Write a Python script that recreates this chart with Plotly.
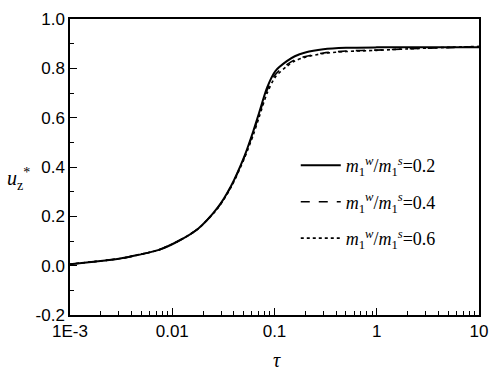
import plotly.graph_objects as go

tau = [0.001, 0.0017, 0.003, 0.0047, 0.0074, 0.0115, 0.0179, 0.0279, 0.0375,
       0.0504, 0.062, 0.0705, 0.0848, 0.102, 0.132, 0.158, 0.2, 0.3, 0.5, 1, 2, 5, 10]
u_02 = [0.006, 0.016, 0.028, 0.044, 0.064, 0.100, 0.150, 0.236, 0.322,
        0.440, 0.545, 0.618, 0.723, 0.789, 0.829, 0.849, 0.864, 0.877, 0.883, 0.885, 0.885, 0.885, 0.885]
u_04 = [0.006, 0.016, 0.028, 0.044, 0.064, 0.100, 0.150, 0.235, 0.320,
        0.437, 0.539, 0.610, 0.712, 0.775, 0.815, 0.835, 0.848, 0.862, 0.870, 0.874, 0.879, 0.884, 0.888]
u_06 = [0.006, 0.016, 0.028, 0.044, 0.064, 0.100, 0.149, 0.233, 0.317,
        0.432, 0.530, 0.600, 0.700, 0.765, 0.808, 0.830, 0.845, 0.860, 0.868, 0.873, 0.879, 0.885, 0.889]

labels = ["<i>m</i><sub>1</sub><sup><i>w</i></sup>/<i>m</i><sub>1</sub><sup><i>s</i></sup>=0.2",
          "<i>m</i><sub>1</sub><sup><i>w</i></sup>/<i>m</i><sub>1</sub><sup><i>s</i></sup>=0.4",
          "<i>m</i><sub>1</sub><sup><i>w</i></sup>/<i>m</i><sub>1</sub><sup><i>s</i></sup>=0.6"]
series = [u_02, u_04, u_06]
dashes = ["solid", "dash", "dot"]
widths = [2, 1.6, 1.6]

x_tickvals = [0.001, 0.01, 0.1, 1, 10]
x_ticktext = ["1E-3", "0.01", "0.1", "1", "10"]
x_minor = [m * 10 ** e for e in range(-3, 1) for m in range(2, 10)]
y_tickvals = [-0.2, 0.0, 0.2, 0.4, 0.6, 0.8, 1.0]
y_ticktext = ["-0.2", "0.0", "0.2", "0.4", "0.6", "0.8", "1.0"]

fig = go.Figure()
for i, (ys, lab) in enumerate(zip(series, labels)):
    fig.add_trace(go.Scatter(x=tau, y=ys, mode="lines", name=lab,
                             legendgroup=str(i),
                             line=dict(color="black", width=widths[i], dash=dashes[i],
                                       shape="spline", smoothing=0.8)))

axis_font = dict(family="Liberation Sans, Arial", size=17, color="black")
fig.update_layout(
    width=498, height=370,
    margin=dict(l=70, r=13, t=10, b=55),
    paper_bgcolor="white", plot_bgcolor="white",
    showlegend=True,
    legend=dict(x=0.552, y=0.567, xanchor="left", yanchor="top",
                font=dict(family="Liberation Serif, Times New Roman", size=18, color="black"),
                bgcolor="rgba(0,0,0,0)", tracegroupgap=10, itemwidth=40),
    xaxis=dict(type="log", range=[-3, 1], tickmode="array", tickvals=x_tickvals,
               ticktext=x_ticktext, ticks="inside", ticklen=7, tickwidth=1,
               tickcolor="black", showline=True, linecolor="black", linewidth=1.5,
               mirror=True, showgrid=False, zeroline=False, tickfont=axis_font,
               minor=dict(tickmode="array", tickvals=x_minor, ticks="inside",
                          ticklen=4, tickcolor="black", showgrid=False)),
    yaxis=dict(range=[-0.2, 1.0], tickmode="array", tickvals=y_tickvals,
               ticktext=y_ticktext, ticks="inside", ticklen=7, tickwidth=1,
               tickcolor="black", showline=True, linecolor="black", linewidth=1.5,
               mirror=True, showgrid=False, zeroline=False, tickfont=axis_font,
               minor=dict(dtick=0.1, ticks="inside", ticklen=4, tickcolor="black",
                          showgrid=False)),
    annotations=[
        dict(text="<i>u</i><sub>z</sub><sup>*</sup>", xref="paper", yref="paper",
             x=-0.125, y=0.46, xanchor="center", yanchor="middle", showarrow=False,
             font=dict(family="Liberation Serif, Times New Roman", size=20, color="black")),
        dict(text="<i>τ</i>", xref="paper", yref="paper",
             x=0.506, y=-0.152, xanchor="center", yanchor="middle", showarrow=False,
             font=dict(family="Liberation Serif, Times New Roman", size=20, color="black")),
    ],
)

fig.write_html("out.html", config={"displayModeBar": False},
               post_script="document.body.style.margin='0';document.body.style.overflow='hidden';")
